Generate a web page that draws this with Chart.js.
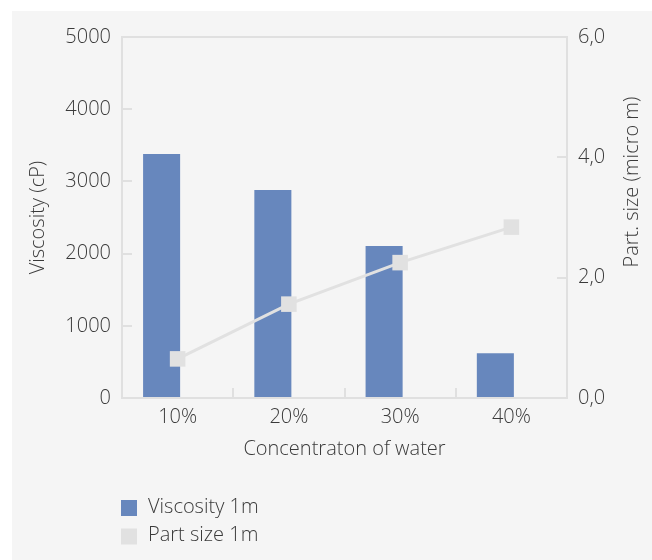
<!DOCTYPE html>
<html>
<head>
<meta charset="utf-8">
<script src="https://cdn.jsdelivr.net/npm/chart.js@4/dist/chart.umd.min.js"></script>
<style>
    body { margin: 0; background: #fff; }
    #wrap { position: absolute; left: 12px; top: 11px; width: 640px; height: 549px; background: #f5f5f5; }
</style>
</head>
<body>
<div id="wrap"><canvas id="chart" width="640" height="549"></canvas></div>
<script>
// data
var categories = ['10%', '20%', '30%', '40%'];
var viscosity = [3380, 2880, 2105, 620];
var partSize = [0.65, 1.56, 2.25, 2.84];

var textColor = '#3a3a3a';
var axisColor = '#e0e0e0';
var barColor = '#6787bd';
var lineColor = '#e1e1e1';
var fontCss = '300 20px "Open Sans", sans-serif';

Chart.defaults.font.family = "'Open Sans', sans-serif";
Chart.defaults.font.size = 20;
Chart.defaults.font.weight = 300;
Chart.defaults.color = textColor;

// right title reads bottom-to-top, and the legend is stacked below the plot
var extras = {
    id: 'extras',
    afterDraw: function(chart) {
        var ctx = chart.ctx;
        var area = chart.chartArea;
        ctx.save();
        ctx.fillStyle = textColor;
        ctx.font = fontCss;
        ctx.textBaseline = 'middle';
        ctx.textAlign = 'center';
        ctx.translate(area.right + 65, area.top + 145);
        ctx.rotate(-Math.PI / 2);
        ctx.fillText('Part. size (micro m)', 0, 0);
        ctx.restore();

        ctx.save();
        ctx.font = fontCss;
        ctx.textBaseline = 'middle';
        ctx.textAlign = 'left';
        var row = 0;
        chart.data.datasets.forEach(function(ds) {
            if (!ds.label) return;
            var y = area.bottom + 110 + row * 28.5;
            ctx.fillStyle = ds.type === 'line' ? ds.pointBackgroundColor : ds.backgroundColor;
            ctx.fillRect(area.left - 1, y - 8, 16, 16);
            ctx.fillStyle = textColor;
            ctx.fillText(ds.label, area.left + 26, y - 1);
            row++;
        });
        ctx.restore();
    }
};

// keep label padding from pushing the plot area around
function noPad(s) {
    s.paddingTop = 0;
    s.paddingBottom = 0;
    s.paddingLeft = 0;
    s.paddingRight = 0;
}

var ctx = document.getElementById('chart').getContext('2d');
var chart = new Chart(ctx, {
    type: 'bar',
    data: {
        labels: categories,
        datasets: [{
            type: 'bar',
            label: 'Viscosity 1m',
            data: viscosity,
            backgroundColor: barColor,
            borderWidth: 0,
            yAxisID: 'y',
            categoryPercentage: 0.576,
            barPercentage: 1.156,
            order: 2
        }, {
            // empty spacer so the bars sit left of the category centre
            type: 'bar',
            data: [],
            yAxisID: 'y',
            categoryPercentage: 0.576,
            barPercentage: 1.156,
            order: 3
        }, {
            type: 'line',
            label: 'Part size 1m',
            data: partSize,
            borderColor: lineColor,
            borderWidth: 3,
            tension: 0,
            pointStyle: 'rect',
            pointRadius: 11,
            pointBorderWidth: 0,
            pointBackgroundColor: lineColor,
            yAxisID: 'y1',
            order: 1
        }]
    },
    options: {
        responsive: false,
        animation: false,
        layout: { autoPadding: false, padding: { top: 26, left: 0, right: 0, bottom: 99 } },
        plugins: {
            legend: { display: false },
            tooltip: { enabled: false }
        },
        scales: {
            x: {
                afterFit: function(s) { s.height = 63; noPad(s); },
                grid: { drawOnChartArea: false, tickLength: -10, color: axisColor, lineWidth: 2 },
                border: { color: axisColor, width: 2 },
                ticks: { padding: 17 },
                title: { display: true, text: 'Concentraton of water', padding: 0 }
            },
            y: {
                position: 'left',
                min: 0,
                max: 5000,
                afterFit: function(s) { s.width = 110; noPad(s); },
                grid: {
                    tickLength: -10,
                    lineWidth: 2,
                    tickColor: axisColor,
                    color: function(c) { return c.tick && c.tick.value === 5000 ? axisColor : 'transparent'; }
                },
                border: { color: axisColor, width: 2 },
                ticks: { stepSize: 1000, padding: 21, callback: function(v) { return String(v); } },
                title: { display: true, text: 'Viscosity (cP)', padding: { top: 14, bottom: 0 } }
            },
            y1: {
                position: 'right',
                min: 0,
                max: 6,
                afterFit: function(s) { s.width = 85; noPad(s); },
                grid: { drawOnChartArea: false, tickLength: -10, color: axisColor, lineWidth: 2 },
                border: { color: axisColor, width: 2 },
                ticks: {
                    stepSize: 2,
                    padding: 21,
                    callback: function(v) { return v.toFixed(1).replace('.', ','); }
                }
            }
        }
    },
    plugins: [extras]
});
</script>
</body>
</html>
